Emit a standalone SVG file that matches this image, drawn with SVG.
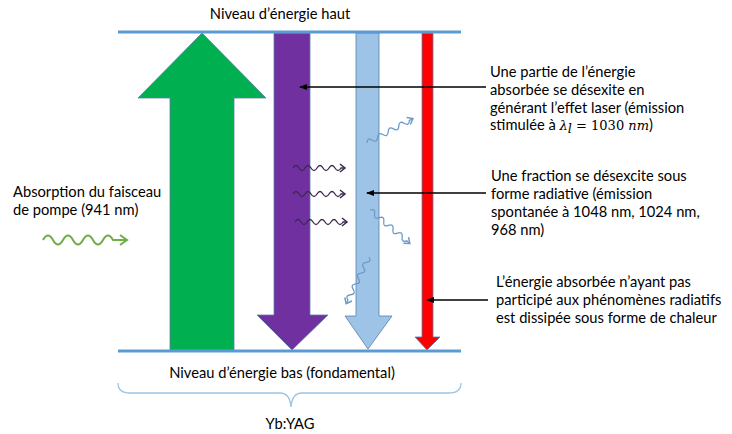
<svg xmlns="http://www.w3.org/2000/svg" width="732" height="434" viewBox="0 0 732 434">
<style>
text{font-family:Lato,"Liberation Sans",sans-serif;font-size:14.7px;fill:#000}
.lvl{stroke:#5B9BD5;stroke-width:3;fill:none}
.shape{stroke:#5A7FA8;stroke-width:0.8}
.call{stroke:#000;stroke-width:1.6;fill:none;marker-end:url(#tri)}
.wd{fill:none;stroke:#3C2A4D;stroke-width:1.3;marker-end:url(#chevD)}
.wb{fill:none;stroke:#6A9BC8;stroke-width:1.3;marker-end:url(#chevB)}
.wg{fill:none;stroke:#70AD47;stroke-width:2;marker-end:url(#chevG)}
.m{font-family:"DejaVu Serif","Liberation Serif",serif;font-size:13px}
</style>
<defs>
<marker id="tri" markerWidth="8" markerHeight="6" refX="7" refY="3" orient="auto" markerUnits="userSpaceOnUse"><path d="M0,0 L8,3 L0,6 z" fill="#000"/></marker>
<marker id="chevD" markerWidth="8" markerHeight="10" refX="6" refY="5" orient="auto" markerUnits="userSpaceOnUse"><path d="M1,1 L6,5 L1,9" fill="none" stroke="#3C2A4D" stroke-width="1.5"/></marker>
<marker id="chevB" markerWidth="8" markerHeight="10" refX="6" refY="5" orient="auto" markerUnits="userSpaceOnUse"><path d="M1,1 L6,5 L1,9" fill="none" stroke="#6A9BC8" stroke-width="1.5"/></marker>
<marker id="chevG" markerWidth="10" markerHeight="12" refX="8" refY="6" orient="auto" markerUnits="userSpaceOnUse"><path d="M1,1 L8,6 L1,11" fill="none" stroke="#70AD47" stroke-width="2"/></marker>
<path id="wave" d="M0,0 q3,-5 6,0 t6,0 t6,0 t6,0 t6,0 t6,0 t6,0 t6,0 L52,0"/>
<path id="waveG" d="M0,0 q5,-9 10,0 t10,0 t10,0 t10,0 t10,0 t10,0 t10,0 L84,0"/>
</defs>

<g id="absorption">
<polygon class="shape" fill="#00B050" points="202,33 266,98 234,98 234,351 170,351 170,98 138,98"/>
</g>
<g id="laser">
<polygon class="shape" fill="#7030A0" points="274,33 310,33 310,315 328,315 292,350 257,315 274,315"/>
</g>
<g id="spontaneous">
<polygon class="shape" fill="#9DC3E6" points="356,33 379,33 379,316 392,316 368,349 345,316 356,316"/>
</g>
<g id="heat">
<polygon class="shape" fill="#FF0000" points="422,33 433,33 433,337 440,337 427,350 415,337 422,337"/>
</g>

<g id="levels">
<line class="lvl" x1="118" y1="32" x2="461" y2="32"/>
<line class="lvl" x1="118" y1="351" x2="461" y2="351"/>
<text x="280" y="19" text-anchor="middle">Niveau d’énergie haut</text>
<text x="282" y="378" text-anchor="middle">Niveau d’énergie bas (fondamental)</text>
</g>

<g id="crystal">
<path d="M118,383 Q118,393 130,393 L280,393 Q290,393 291,407 Q292,393 302,393 L449,393 Q461,393 461,383" fill="none" stroke="#9DC3E6" stroke-width="1.3"/>
<text x="290" y="429" text-anchor="middle">Yb:YAG</text>
</g>

<g id="photons">
<use href="#wave" class="wd" transform="translate(293,168)"/>
<use href="#wave" class="wd" transform="translate(293,194)"/>
<use href="#wave" class="wd" transform="translate(295,222)"/>
<use href="#wave" class="wb" transform="translate(367,143) rotate(-28)"/>
<use href="#wave" class="wb" transform="translate(370,210) rotate(40)"/>
<use href="#wave" class="wb" transform="translate(369,257) rotate(116)"/>
<use href="#waveG" class="wg" transform="translate(43,240)"/>
</g>

<g id="connectors">
<line class="call" x1="486" y1="87" x2="300" y2="87"/>
<line class="call" x1="486" y1="193" x2="367" y2="193"/>
<line class="call" x1="488" y1="300" x2="427" y2="300"/>
</g>

<g id="label-pump" font-size="14.3">
<text x="13" y="197" font-size="14.3">Absorption du faisceau</text>
<text x="13" y="215" font-size="14.3">de pompe (941 nm)</text>
</g>
<g id="label-laser">
<text x="490" y="77" font-size="15">Une partie de l’énergie</text>
<text x="490" y="95" font-size="15">absorbée se désexite en</text>
<text x="490" y="113" font-size="15">générant l’effet laser (émission</text>
<text x="490" y="130" font-size="15">stimulée à <tspan class="m" font-style="italic">λ</tspan><tspan class="m" font-style="italic" font-size="9" dy="3">l</tspan><tspan class="m" dy="-3"> = 1030 </tspan><tspan class="m" font-style="italic">nm</tspan>)</text>
</g>
<g id="label-spont">
<text x="491" y="181" font-size="15.6">Une fraction se désexcite sous</text>
<text x="491" y="199" font-size="15.6">forme radiative (émission</text>
<text x="491" y="217" font-size="15.6">spontanée à 1048 nm, 1024 nm,</text>
<text x="491" y="235" font-size="15.6">968 nm)</text>
</g>
<g id="label-heat">
<text x="496" y="287" font-size="15.7">L’énergie absorbée n’ayant pas</text>
<text x="496" y="305" font-size="15.7">participé aux phénomènes radiatifs</text>
<text x="496" y="323" font-size="15.7">est dissipée sous forme de chaleur</text>
</g>
</svg>
